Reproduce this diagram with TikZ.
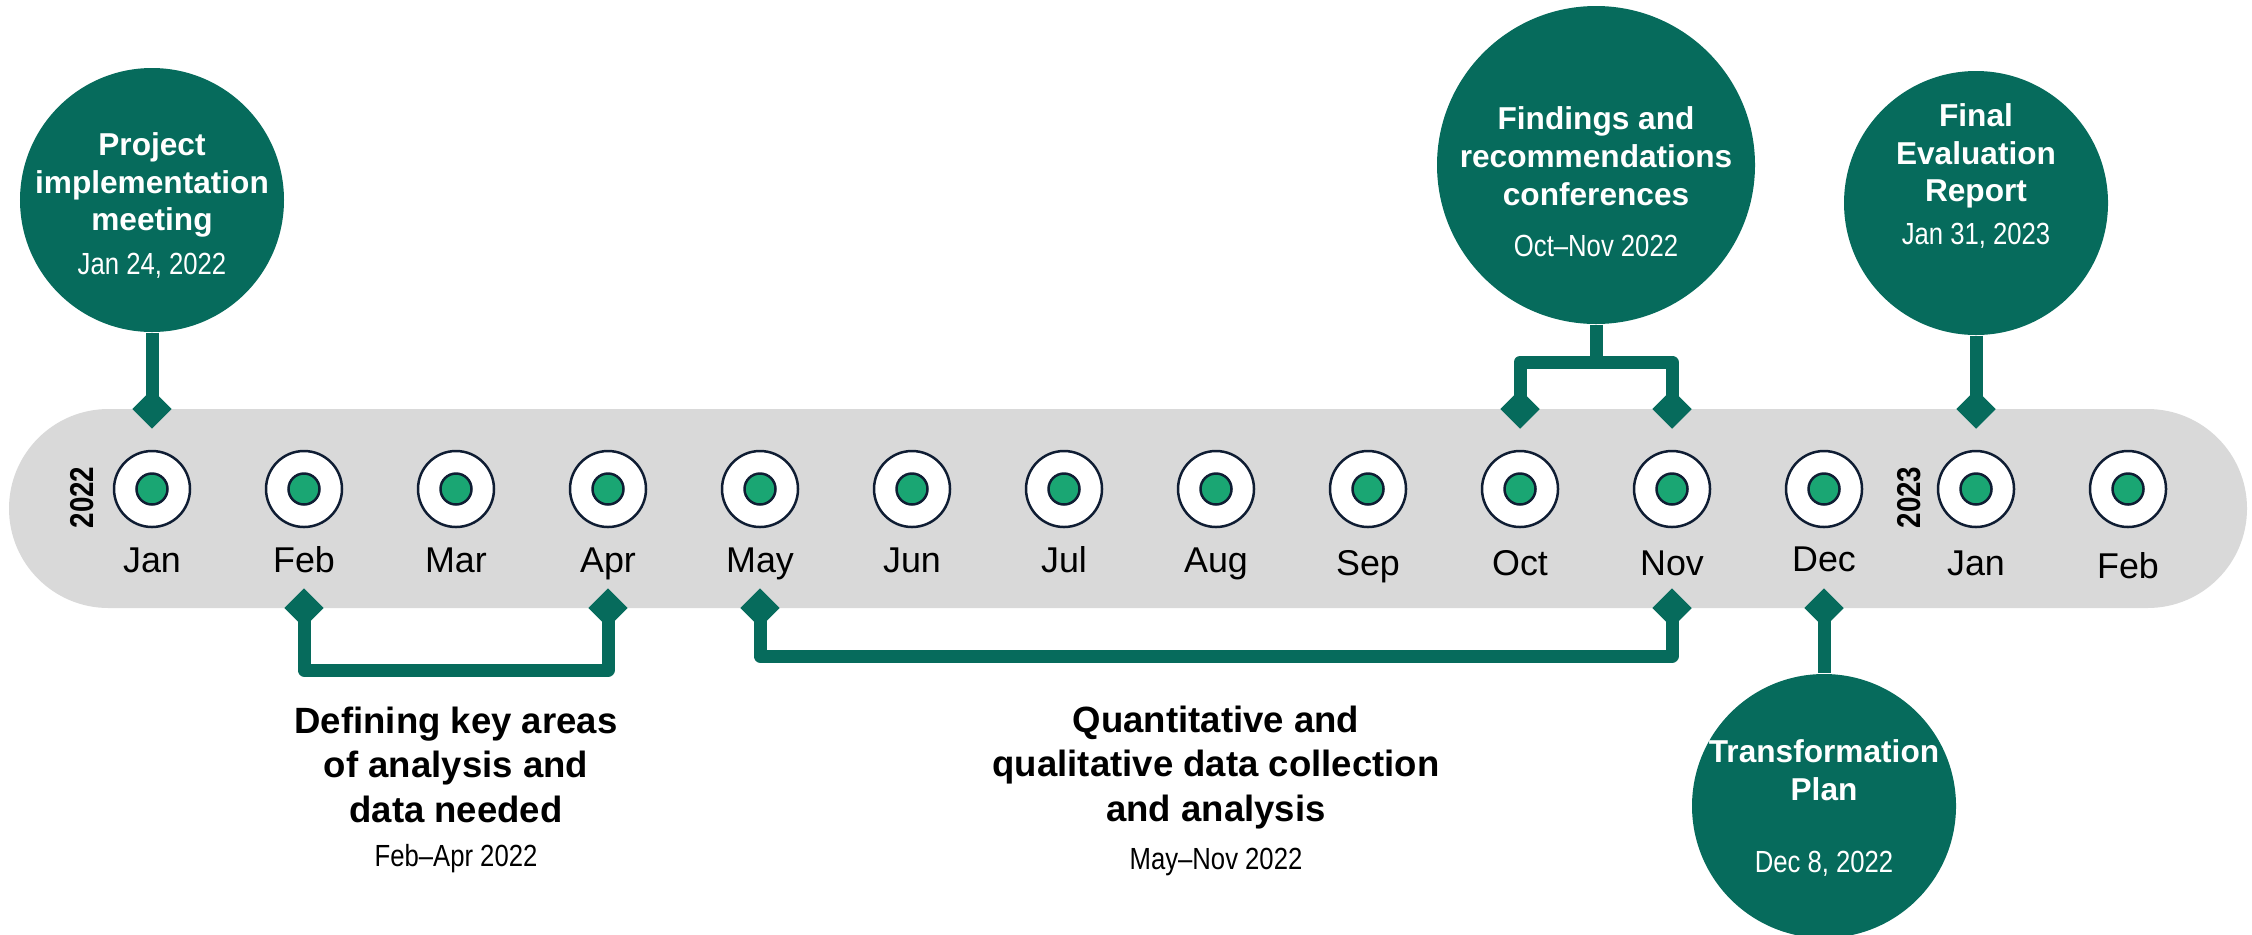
\documentclass[tikz,border=0pt]{standalone}
\usepackage{fontspec}
\setmainfont{Liberation Sans}
\newfontfamily\narrowfont[FakeStretch=0.84]{Liberation Sans}
\usepackage{xcolor}
\usepackage{tikz}
\usetikzlibrary{shapes.geometric}
\definecolor{tealdark}{HTML}{066B5C}
\definecolor{dotgreen}{HTML}{1AA673}
\definecolor{ringnavy}{HTML}{0F1D33}
\definecolor{bandgray}{HTML}{D9D9D9}
\newcommand{\datefont}{\narrowfont\mdseries\fontsize{8.7pt}{10.7pt}\selectfont}

\begin{document}
\begin{tikzpicture}[
        node distance=1.52cm,
        monthnode/.style={circle, draw=ringnavy, fill=white, line width=0.025cm, minimum size=0.76cm, inner sep=0pt,
            path picture={\draw[ringnavy, fill=dotgreen, line width=0.025cm] (path picture bounding box.center) circle (0.155cm);}},
        labelnode/.style={font=\fontsize{10.2pt}{12pt}\selectfont, text height=0.27cm, text depth=0.08cm, inner sep=0pt, node distance=0.735cm},
        yearnode/.style={font=\narrowfont\bfseries\fontsize{9.4pt}{11pt}\selectfont, inner sep=0pt},
        tipnode/.style={diamond, fill=tealdark, inner sep=0pt, minimum size=0.40cm},
        eventnode/.style={circle, fill=tealdark, inner sep=0pt, minimum size=2.64cm},
        eventtext/.style={text=white, align=center, inner sep=0pt, font=\bfseries\fontsize{9pt}{10.7pt}\selectfont},
        steptext/.style={align=center, inner sep=0pt, font=\bfseries\fontsize{10.4pt}{12.66pt}\selectfont},
        stemline/.style={draw=tealdark, line width=0.13cm, line join=round},
    ]
    \useasboundingbox (-1.52,-4.45) rectangle (21.00,4.89);
    %Band
    \fill[bandgray, rounded corners=0.995cm] (-1.43,-1.19) rectangle (20.95,0.80);
    %Nodes
    \node[monthnode]  (jan22node) at (0,0) {};
    \node[monthnode]  (feb22node)  [right of= jan22node] {};
    \node[monthnode]  (mar22node)  [right of= feb22node] {};
    \node[monthnode]  (apr22node)  [right of= mar22node] {};
    \node[monthnode]  (may22node)  [right of= apr22node] {};
    \node[monthnode]  (jun22node)  [right of= may22node] {};
    \node[monthnode]  (jul22node)  [right of= jun22node] {};
    \node[monthnode]  (aug22node)  [right of= jul22node] {};
    \node[monthnode]  (sep22node)  [right of= aug22node] {};
    \node[monthnode]  (oct22node)  [right of= sep22node] {};
    \node[monthnode]  (nov22node)  [right of= oct22node] {};
    \node[monthnode]  (dec22node)  [right of= nov22node] {};
    \node[monthnode]  (jan23node)  [right of= dec22node] {};
    \node[monthnode]  (feb23node)  [right of= jan23node] {};
    \node[labelnode]  (jan22lblnode)  [below of= jan22node] {Jan};
    \node[labelnode]  (feb22lblnode)  [below of= feb22node] {Feb};
    \node[labelnode]  (mar22lblnode)  [below of= mar22node] {Mar};
    \node[labelnode]  (apr22lblnode)  [below of= apr22node] {Apr};
    \node[labelnode]  (may22lblnode)  [below of= may22node] {May};
    \node[labelnode]  (jun22lblnode)  [below of= jun22node] {Jun};
    \node[labelnode]  (jul22lblnode)  [below of= jul22node] {Jul};
    \node[labelnode]  (aug22lblnode)  [below of= aug22node] {Aug};
    \node[labelnode]  (sep22lblnode)  [below of= sep22node, yshift=-0.03cm] {Sep};
    \node[labelnode]  (oct22lblnode)  [below of= oct22node, yshift=-0.03cm] {Oct};
    \node[labelnode]  (nov22lblnode)  [below of= nov22node, yshift=-0.03cm] {Nov};
    \node[labelnode]  (dec22lblnode)  [below of= dec22node, yshift=.01cm] {Dec};
    \node[labelnode]  (jan23lblnode)  [below of= jan23node, yshift=-0.03cm] {Jan};
    \node[labelnode]  (feb23lblnode)  [below of= feb23node, yshift=-0.06cm] {Feb};
    \node[yearnode]  (year22node)  [left of= jan22node, node distance=0.70cm, yshift=-0.085cm, rotate=90] {2022};
    \node[yearnode]  (year23node)  [left of= jan23node, node distance=0.67cm, yshift=-0.085cm, rotate=90] {2023};
    \node[tipnode]  (jan22topnode)  [above of= jan22node, node distance=0.80cm] {};
    \node[tipnode]  (octtopnode)  [above of= oct22node, node distance=0.80cm] {};
    \node[tipnode]  (novtopnode)  [above of= nov22node, node distance=0.80cm] {};
    \node[tipnode]  (jan23topnode)  [above of= jan23node, node distance=0.80cm] {};
    \node[tipnode]  (febbotnode)  [below of= feb22node, node distance=1.19cm] {};
    \node[tipnode]  (aprbotnode)  [below of= apr22node, node distance=1.19cm] {};
    \node[tipnode]  (maybotnode)  [below of= may22node, node distance=1.19cm] {};
    \node[tipnode]  (novbotnode)  [below of= nov22node, node distance=1.19cm] {};
    \node[tipnode]  (decbotnode)  [below of= dec22node, node distance=1.19cm] {};
    \node[eventnode]  (projnode)  [above of= jan22node, node distance=2.89cm] {};
    \node[eventnode, minimum size=3.18cm]  (findnode)  [above of= oct22node, node distance=3.24cm, xshift=.76cm] {};
    \node[eventnode]  (finalnode)  [above of= jan23node, node distance=2.86cm] {};
    \node[eventnode]  (transnode)  [below of= dec22node, node distance=3.17cm] {};
    \node[eventtext, yshift=-0.055cm]  (projtextnode) at (projnode) {Project\\implementation\\meeting\\[0.06cm]{\datefont Jan 24, 2022}};
    \node[eventtext, yshift=-0.17cm]  (findtextnode) at (findnode) {Findings and\\recommendations\\conferences\\[0.14cm]{\datefont Oct–Nov 2022}};
    \node[eventtext, yshift=.27cm]  (finaltextnode) at (finalnode) {Final\\Evaluation\\Report\\[0.05cm]{\datefont Jan 31, 2023}};
    \node[eventtext, yshift=-0.02cm]  (transtextnode) at (transnode) {Transformation\\Plan\\[0.35cm]{\datefont Dec 8, 2022}};
    \node[steptext]  (deftextnode)  [below of= mar22node, node distance=3.01cm] {Defining key areas\\of analysis and\\data needed\\{\datefont Feb–Apr 2022}};
    \node[steptext]  (quanttextnode)  [below of= aug22node, node distance=3.015cm] {Quantitative and\\qualitative data collection\\and analysis\\[0.035cm]{\datefont May–Nov 2022}};
    \node[coordinate]  (findjoin)  [below of= findnode, node distance=1.97cm] {};
    \node[coordinate]  (febaprjoin)  [below of= febbotnode, node distance=0.62cm] {};
    \node[coordinate]  (maynovjoin)  [below of= maybotnode, node distance=0.48cm] {};
    %Lines
    \draw[stemline] (projnode.south) -- (jan22topnode.center);
    \draw[stemline] (findnode.south) -- (findjoin);
    \draw[stemline] (octtopnode.center) |- (findjoin) -| (novtopnode.center);
    \draw[stemline] (finalnode.south) -- (jan23topnode.center);
    \draw[stemline] (febbotnode.center) -- (febaprjoin) -| (aprbotnode.center);
    \draw[stemline] (maybotnode.center) -- (maynovjoin) -| (novbotnode.center);
    \draw[stemline] (decbotnode.center) -- (transnode.north);
\end{tikzpicture}
\end{document}
